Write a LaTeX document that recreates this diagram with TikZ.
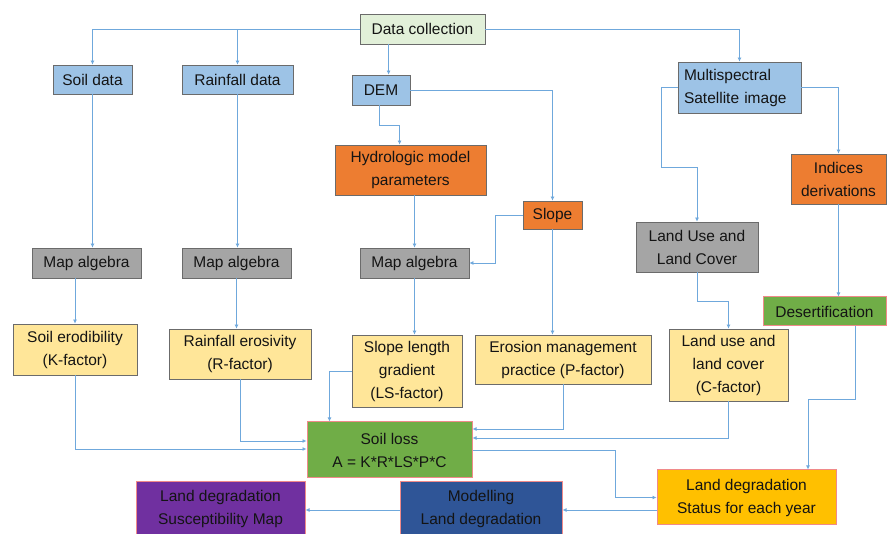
\documentclass[tikz,border=0pt]{standalone}
\usepackage{fontspec}
\setmainfont{Liberation Sans}
\usetikzlibrary{calc,arrows.meta}
\definecolor{cblue}{HTML}{9DC3E6}
\definecolor{corange}{HTML}{ED7D31}
\definecolor{cgray}{HTML}{A5A5A5}
\definecolor{cyellow}{HTML}{FFE699}
\definecolor{cgreen}{HTML}{70AD47}
\definecolor{cgold}{HTML}{FFC000}
\definecolor{cnavy}{HTML}{2F5597}
\definecolor{cpurple}{HTML}{7030A0}
\definecolor{clgreen}{HTML}{E2F0D9}
\definecolor{cpink}{HTML}{F08A8A}
\definecolor{cline}{HTML}{6FA8DC}
\definecolor{cborder}{HTML}{6B6B6B}
\definecolor{ctext}{HTML}{141414}
\tikzset{
  box/.style={draw=cborder, line width=0.8pt, rectangle, align=center, inner sep=2pt,
    font=\fontsize{15.5pt}{23pt}\selectfont, text=ctext},
  pbox/.style={box, draw=cpink, line width=1pt},
  arr/.style={draw=cline, line width=0.8pt, -{Latex[length=4pt,width=4pt]}},
}
\begin{document}
\begin{tikzpicture}[x=1pt,y=-1pt]
\useasboundingbox (0,0) rectangle (887,534);
\fill[white] (0,0) rectangle (887,534);
% nodes
\node[box, fill=clgreen, minimum width=125pt, minimum height=30pt] (dc) at (422.5,29) {Data collection};
\node[box, fill=cblue, minimum width=79pt, minimum height=29pt] (soil) at (92.5,79.5) {Soil data};
\node[box, fill=cblue, minimum width=111pt, minimum height=29pt] (rain) at (237.5,79.5) {Rainfall data};
\node[box, fill=cblue, minimum width=58pt, minimum height=30pt] (dem) at (381,90) {DEM};
\node[box, fill=cblue, minimum width=123pt, minimum height=51pt, align=left, text width=111pt] (ms) at (739.5,87.5) {Multispectral\\Satellite image};
\node[box, fill=corange, minimum width=151pt, minimum height=50pt] (hyd) at (410.5,170) {Hydrologic model\\parameters};
\node[box, fill=corange, minimum width=95pt, minimum height=50pt] (ind) at (838.5,179) {Indices\\derivations};
\node[box, fill=corange, minimum width=59pt, minimum height=28pt] (slope) at (552.5,215) {Slope};
\node[box, fill=cgray, minimum width=122pt, minimum height=50pt] (lulc) at (697,247) {Land Use and\\Land Cover};
\node[box, fill=cgray, minimum width=109pt, minimum height=30pt] (ma1) at (86.5,263) {Map algebra};
\node[box, fill=cgray, minimum width=109pt, minimum height=30pt] (ma2) at (236.5,263) {Map algebra};
\node[box, fill=cgray, minimum width=109pt, minimum height=30pt] (ma3) at (414.5,263) {Map algebra};
\node[pbox, fill=cgreen, minimum width=123pt, minimum height=29pt] (des) at (824.5,311.5) {Desertification};
\node[box, fill=cyellow, minimum width=124pt, minimum height=51pt] (k) at (75,349.5) {Soil erodibility\\(K-factor)};
\node[box, fill=cyellow, minimum width=142pt, minimum height=50pt] (r) at (240,354) {Rainfall erosivity\\(R-factor)};
\node[box, fill=cyellow, minimum width=110pt, minimum height=72pt] (ls) at (407,371) {Slope length\\gradient\\(LS-factor)};
\node[box, fill=cyellow, minimum width=176pt, minimum height=49pt] (p) at (563,359.5) {Erosion management\\practice (P-factor)};
\node[box, fill=cyellow, minimum width=119pt, minimum height=72pt] (c) at (728.5,365) {Land use and\\land cover\\(C-factor)};
\node[pbox, fill=cgreen, minimum width=165pt, minimum height=56pt] (sl) at (389.5,450) {Soil loss\\A = K*R*LS*P*C};
\node[pbox, fill=cgold, minimum width=179pt, minimum height=55pt] (st) at (746.5,497.5) {Land degradation\\Status for each year};
\node[pbox, fill=cnavy, minimum width=162pt, minimum height=54pt] (mod) at (481,509) {Modelling\\Land degradation};
\node[pbox, fill=cpurple, minimum width=169pt, minimum height=54pt] (sus) at (220.5,509) {Land degradation\\Susceptibility Map};
% connectors
\draw[arr] (dc.west) -| (soil.north);
\draw[arr] (dc.west) -| (rain.north);
\draw[arr] ($(dc.south west)+(29,0)$) -- ($(dem.north west)+(37,0)$);
\draw[arr] (dc.east) -| (ms.north);
\draw[arr] ($(dem.south west)+(28,0)$) |- ($(hyd.north west)+(65,-19)$) -- ($(hyd.north west)+(65,0)$);
\draw[arr] (dem.east) -| (slope.north);
\draw[arr] (ma3.north |- hyd.south) -- (ma3.north);
\draw[arr] (slope.west) -- ++(-27,0) |- (ma3.east);
\draw[arr] (slope.south) -- (slope.south |- p.north);
\draw[arr] (ms.west) -- ++(-16,0) -- ++(0,79.5) -| (lulc.north);
\draw[arr] (ms.east) -| (ind.north);
\draw[arr] (ind.south) -- (ind.south |- des.north);
\draw[arr] (soil.south) -- (soil.south |- ma1.north);
\draw[arr] (rain.south) -- (rain.south |- ma2.north);
\draw[arr] (k.north |- ma1.south) -- (k.north);
\draw[arr] (ma2.south) -- (ma2.south |- r.north);
\draw[arr] (ma3.south) -- (ma3.south |- ls.north);
\draw[arr] (lulc.south) -- ++(0,29) -| (c.north);
\draw[arr] (k.south) |- ($(sl.west)+(0,-1)$);
\draw[arr] (r.south) |- ($(sl.west)+(0,-9)$);
\draw[arr] (ls.west) -| ($(sl.north west)+(23,0)$);
\draw[arr] (p.south) |- ($(sl.east)+(0,-21)$);
\draw[arr] (c.south) |- ($(sl.east)+(0,-12)$);
\draw[arr] (sl.east) -- ++(143,0) |- (st.west);
\draw[arr] ($(des.south)+(30.5,0)$) -- ++(0,73) -| ($(st.north)+(61.5,0)$);
\draw[arr] ($(st.west)+(0,12.5)$) -- ($(mod.east)+(0,1)$);
\draw[arr] ($(mod.west)+(0,1)$) -- ($(sus.east)+(0,1)$);
\end{tikzpicture}
\end{document}
